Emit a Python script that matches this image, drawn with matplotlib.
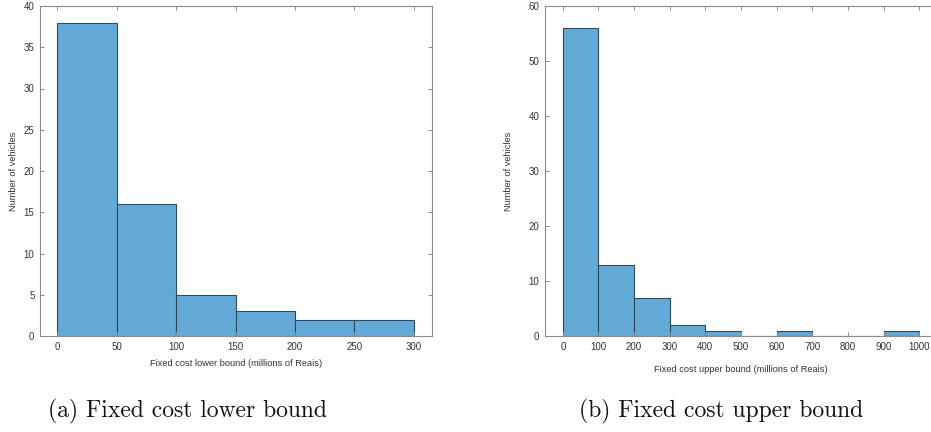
import numpy as np
import matplotlib
matplotlib.use("Agg")
import matplotlib.pyplot as plt

# histogram data (bin edges + counts)
lower_edges = [0, 50, 100, 150, 200, 250, 300]
lower_counts = [38, 16, 5, 3, 2, 2]
upper_edges = [0, 100, 200, 300, 400, 500, 600, 700, 800, 900, 1000]
upper_counts = [56, 13, 7, 2, 1, 0, 1, 0, 0, 1]

lower_ticks = [0, 50, 100, 150, 200, 250, 300]
upper_ticks = [0, 100, 200, 300, 400, 500, 600, 700, 800, 900, 1000]

bar_color = "#64aad7"
edge_color = "#2b4a66"
axis_color = "#8a8a8a"
text_color = "#333333"

plt.rcParams["font.family"] = ["Liberation Sans", "DejaVu Sans"]

W, H = 931, 432
fig = plt.figure(figsize=(W / 100, H / 100), dpi=100)


def make_axes(rect, edges, counts, xlim, ylim, xticks, yticks, xlabel, label_pad):
    ax = fig.add_axes(rect)
    edges = np.array(edges)
    ax.bar(edges[:-1], counts, width=np.diff(edges), align="edge",
           color=bar_color, edgecolor=edge_color, linewidth=0.8)
    ax.set_xlim(*xlim)
    ax.set_ylim(*ylim)
    ax.set_xticks(xticks)
    ax.set_yticks(yticks)
    ax.tick_params(direction="in", top=True, right=True, length=3,
                   width=0.7, color=axis_color, labelsize=7,
                   labelcolor=text_color, pad=4)
    for s in ax.spines.values():
        s.set_color(axis_color)
        s.set_linewidth(0.8)
    ax.set_xlabel(xlabel, fontsize=6.7, color=text_color, labelpad=label_pad)
    return ax


ax1 = make_axes([40 / W, 96 / H, 392 / W, 330 / H],
                lower_edges, lower_counts, (-14.6, 315.4), (0, 40),
                lower_ticks, range(0, 41, 5),
                "Fixed cost lower bound (millions of Reais)", 5)
ax1.set_ylabel("Number of vehicles", fontsize=6.7, color=text_color, labelpad=4)

ax2 = make_axes([545 / W, 96 / H, 392 / W, 330 / H],
                upper_edges, upper_counts, (-50, 1050), (0, 60),
                upper_ticks, range(0, 61, 10),
                "Fixed cost upper bound (millions of Reais)", 10)
ax2.set_ylabel("Number of vehicles", fontsize=6.7, color=text_color, labelpad=11)

# sub-figure captions
fig.text(187 / W, 1 - 411 / H, "(a) Fixed cost lower bound", family="cmr10",
         fontsize=17, ha="center", va="center", color="#111111")
fig.text(721 / W, 1 - 411 / H, "(b) Fixed cost upper bound", family="cmr10",
         fontsize=17, ha="center", va="center", color="#111111")

fig.savefig("out.png", dpi=100)
